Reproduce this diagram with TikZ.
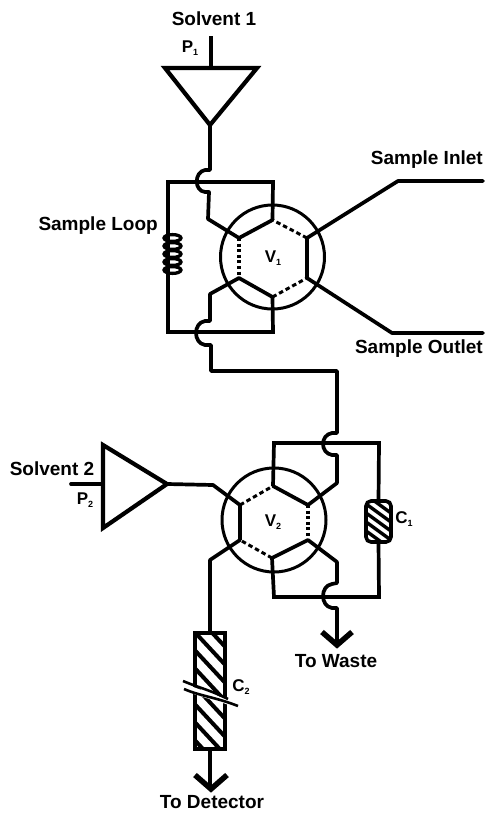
\documentclass[tikz,border=0pt]{standalone}
\usepackage{fontspec}
\setmainfont{Liberation Sans}
\tikzset{
  wire/.style={line width=3.7pt,line join=round,line cap=round},
  thickwire/.style={line width=4.6pt,line join=miter},
  ring/.style={line width=3pt},
  dashedge/.style={line width=3pt,dash pattern=on 4.5pt off 3pt},
  dotedge/.style={line width=4pt,dash pattern=on 3pt off 2.6pt},
  lab/.style={font=\bfseries\fontsize{19pt}{20pt}\selectfont,inner sep=0pt,text=black},
  sublab/.style={font=\bfseries\fontsize{17pt}{18pt}\selectfont,inner sep=0pt,text=black},
  hatch/.style={line width=3.4pt},
}
\newcommand{\psub}[2]{#1\raisebox{-3pt}{\fontsize{9pt}{10pt}\selectfont #2}}
\begin{document}
\begin{tikzpicture}[x=1pt,y=-1pt]
\useasboundingbox (0,0) rectangle (485,814);
% ---- coordinates
\coordinate (pa) at (165,68); \coordinate (pb) at (257,68); \coordinate (pc) at (210,125);
\coordinate (ps) at (211,36); \coordinate (pt) at (211,68);
\coordinate (qa) at (103,445); \coordinate (qb) at (103,528); \coordinate (qc) at (167,484);
\coordinate (qs) at (71,484); \coordinate (qt) at (103,484);
% V1
\coordinate (c1) at (272.5,257);
\coordinate (a1) at (272.5,220); \coordinate (a2) at (307,238); \coordinate (a3) at (307,278);
\coordinate (a4) at (272.5,297); \coordinate (a5) at (239,278); \coordinate (a6) at (239,238);
\coordinate (l1) at (168,182); \coordinate (l2) at (273,182);
\coordinate (l3) at (273,332); \coordinate (l4) at (168,332);
% V2
\coordinate (c2) at (274,520);
\coordinate (b1) at (273,486); \coordinate (b2) at (308,505); \coordinate (b3) at (308,540);
\coordinate (b4) at (272,558); \coordinate (b5) at (240,540); \coordinate (b6) at (240,505);
\coordinate (m1) at (274,443); \coordinate (m2) at (379,443);
\coordinate (m3) at (379,597); \coordinate (m4) at (274,597);
% ---- pump 1
\draw[line width=4.2pt,line join=miter] (pa) -- (pb) -- (pc) -- cycle;
\draw[thickwire] (ps) -- (pt);
% ---- pump 2
\draw[line width=4.2pt,line join=miter] (qa) -- (qc) -- (qb) -- cycle;
\draw[wire] (qs) -- (qt);
% ---- valve V1
\draw[ring] (c1) circle (52);
\draw[wire] (a1) -- (a6);
\draw[wire] (a5) -- (a4);
\draw[wire] (a3) -- (a2);
\draw[dashedge] (a2) -- (a1);
\draw[dashedge] (a4) -- (a3);
\draw[dotedge] (a6) -- (a5);
% loop frame
\draw[wire,line cap=butt,line join=miter] (a1) -- (l2) -- (l1) -- (l4) -- (l3) -- (a4);
% coil
\foreach \yy in {238,246,254,262,270}
  \draw[line width=3.3pt] (172.5,\yy) ellipse (8.5 and 3.4);
% pump 1 to V1, with hop
\draw[wire] (pc) -- (210,170) -- (205,170) .. controls (194,172) and (194,191) .. (205,192)
  -- (209,192) -- (208,219) -- (a6);
% V1 lower to hop and on to V2
\draw[wire] (a5) -- (210,294) -- (210,321) -- (205,321) .. controls (193,323) and (193,343) .. (205,345)
  -- (211,345) -- (211,371) -- (337,371) -- (337,433) -- (332,433)
  .. controls (320,435) and (320,453) .. (332,455) -- (337,455) -- (337,483) -- (b2);
% sample lines
\draw[wire] (a2) -- (398,181) -- (483,181);
\draw[wire] (a3) -- (392,333) -- (483,333);
% ---- valve V2
\draw[ring] (c2) circle (52);
\draw[wire] (b1) -- (b2);
\draw[wire] (b3) -- (b4);
\draw[thickwire] (b5) -- (b6);
\draw[dashedge] (b6) -- (b1);
\draw[dashedge] (b4) -- (b5);
\draw[dotedge] (b2) -- (b3);
% C1 column
\coordinate (k1) at (378.5,501); \coordinate (k2) at (378.5,542);
\draw[wire,line cap=butt,line join=miter] (b1) -- (m1) -- (m2) -- (k1);
\draw[wire,line cap=butt,line join=miter] (k2) -- (m3) -- (m4) -- (b4);
\begin{scope}
  \clip[rounded corners=5pt] (366,501) rectangle (391,542);
  \foreach \yy in {-26,-17,...,40}
    \draw[hatch] (362,\yy+500) -- (395,\yy+524);
\end{scope}
\draw[line width=3.6pt,rounded corners=5pt] (366,501) rectangle (391,542);
% pump 2 to V2
\draw[wire] (qc) -- (213,485) -- (b6);
% V2 to waste
\draw[wire] (b3) -- (337,562) -- (337,583) -- (332,584) .. controls (320,586) and (320,606) .. (332,608)
  -- (337,608) -- (337,645);
\coordinate (w1) at (322,632); \coordinate (w2) at (337,645); \coordinate (w3) at (352,632);
\draw[line width=5.5pt,line join=miter] (w1) -- (w2) -- (w3);
% V2 to C2
\coordinate (d1) at (195,633); \coordinate (d2) at (225,749);
\draw[wire] (b5) -- (210,560) -- (210,633);
\begin{scope}
  \clip (d1) rectangle (d2);
  \foreach \yy in {-36,-18,...,130}
    \draw[hatch,line width=4pt] (190,\yy+627) -- (230,\yy+670);
\end{scope}
\draw[line width=3.8pt] (d1) rectangle (d2);
% break in C2
\fill[white] (183,683) .. controls (200,690) and (215,694) .. (238,704) -- (238,708)
  .. controls (215,700) and (200,697) .. (183,690) -- cycle;
\draw[line width=2.6pt] (183,681) .. controls (197,687) and (210,690) .. (228,699);
\draw[line width=2.6pt] (184,689) .. controls (200,696) and (215,697) .. (238,706);
% to detector
\draw[wire] (210,749) -- (210,788);
\coordinate (e1) at (195,775); \coordinate (e2) at (211,789); \coordinate (e3) at (227,775);
\draw[line width=5.5pt,line join=miter] (e1) -- (e2) -- (e3);
% ---- labels
\node[lab] (t1) at (214,19) {Solvent 1};
\node[lab] (t2) at (52,469) {Solvent 2};
\node[sublab] (t3) at (190,48) {\psub{P}{1}};
\node[sublab] (t4) at (85,500) {\psub{P}{2}};
\node[lab,anchor=east] (t5) at (483,160) {Sample Inlet};
\node[lab,anchor=east] (t6) at (483,349) {Sample Outlet};
\node[lab,anchor=east] (t7) at (158,226) {Sample Loop};
\node[sublab] (t8) at (273,258) {\psub{V}{1}};
\node[sublab] (t9) at (273,522) {\psub{V}{2}};
\node[sublab] (t10) at (404,519) {\psub{C}{1}};
\node[sublab] (t11) at (241,687) {\psub{C}{2}};
\node[lab] (t12) at (336,661) {To Waste};
\node[lab] (t13) at (212,802) {To Detector};
\end{tikzpicture}
\end{document}
